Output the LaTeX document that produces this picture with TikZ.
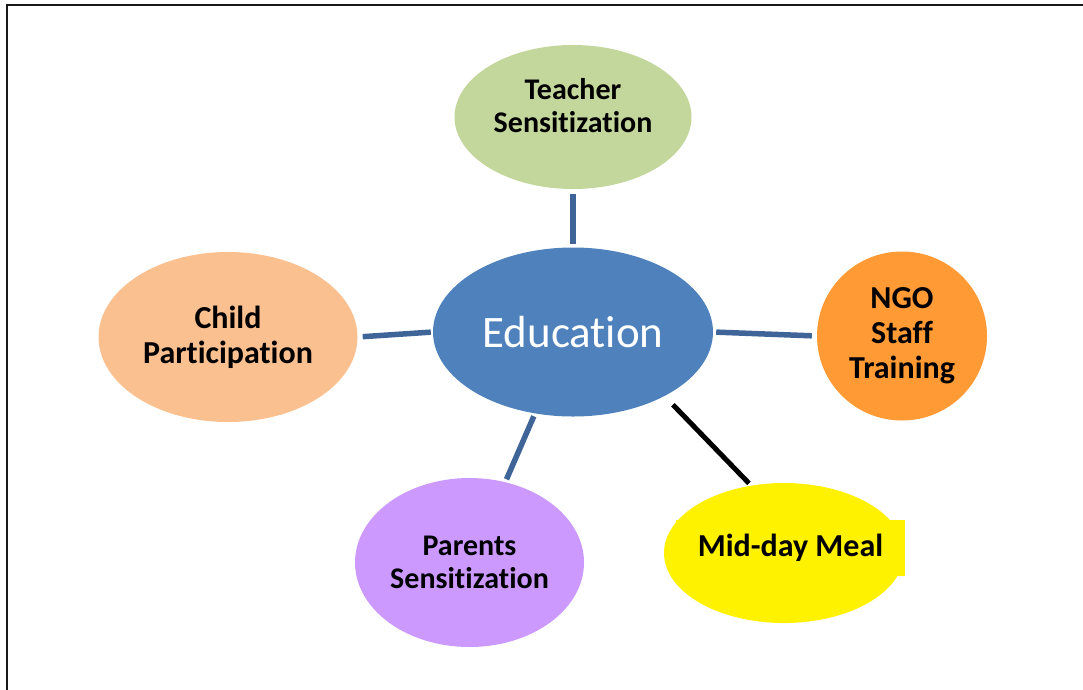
\documentclass[tikz,border=0pt]{standalone}
\usepackage{fontspec}
\setmainfont{Carlito}[Ligatures=NoCommon]
\usetikzlibrary{shapes.geometric}

\begin{document}
\begin{tikzpicture}[x=1pt,y=-1pt,
  bubble/.style={ellipse, inner sep=0pt, align=center, font=\bfseries\fontsize{30}{33}\selectfont},
  spoke/.style={draw={rgb,255:red,62;green,100;blue,152}, line width=5.5pt, shorten <=3pt, shorten >=3pt}]
\useasboundingbox (0,0) rectangle (1083,689);
\draw[black!90, line width=2pt] (7,5) rectangle (1095,700);
% the centre
\node[ellipse, fill={rgb,255:red,79;green,129;blue,189}, minimum width=280pt, minimum height=169pt, inner sep=0pt,
  text=white, font=\fontsize{45}{50}\selectfont] (edu) at (573,332) {Education};
% the five parts round it
\node[bubble, fill={rgb,255:red,195;green,214;blue,155}, minimum width=237pt, minimum height=144pt] (teacher) at (573,117) {Teacher\\Sensitization\\[-10pt]\mbox{}};
\node[bubble, fill={rgb,255:red,250;green,192;blue,144}, minimum width=259pt, minimum height=170pt,
  font=\bfseries\fontsize{32}{35}\selectfont] (child) at (228,337) {Child\\Participation};
\node[bubble, fill={rgb,255:red,255;green,154;blue,53}, minimum width=170pt, minimum height=169pt,
  font=\bfseries\fontsize{32}{35}\selectfont] (ngo) at (902,336) {NGO\\Staff\\Training};
\node[bubble, fill={rgb,255:red,204;green,153;blue,255}, minimum width=229pt, minimum height=169pt] (parents) at (469.5,562.5) {Parents\\Sensitization};
\node[ellipse, fill=yellow, minimum width=240pt, minimum height=140pt, inner sep=0pt] (meal) at (784,553) {};
\node[fill=yellow, minimum width=229pt, minimum height=56pt, inner sep=0pt,
  font=\bfseries\fontsize{32}{35}\selectfont] (mealtext) at (790.5,548) {Mid-day Meal\hspace{12pt}};
% spokes
\draw[spoke, shorten <=5pt] (teacher.south) -- (edu.north);
\draw[spoke, shorten <=5pt, shorten >=2pt] (child.east) -- (edu.west);
\draw[spoke, shorten >=5pt] (edu.east) -- (ngo.west);
\draw[spoke] (edu.-115) -- (parents.66);
\draw[black, line width=5pt, shorten <=12pt, shorten >=3pt] (edu.-35) -- (meal.116);
\end{tikzpicture}
\end{document}
